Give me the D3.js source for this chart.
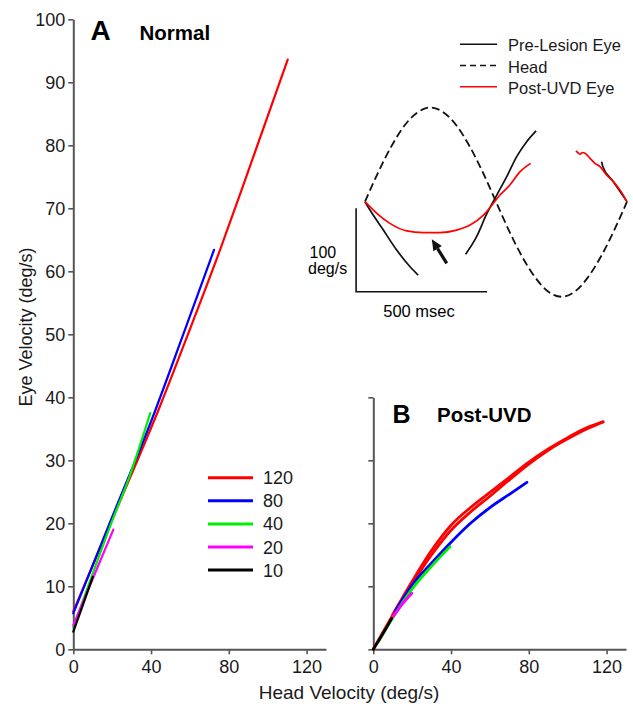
<!DOCTYPE html>
<html><head><meta charset="utf-8">
<script src="https://cdn.jsdelivr.net/npm/d3@7"></script>
<style>
html,body{margin:0;padding:0;background:#fff;}
svg{display:block;font-family:"Liberation Sans",Arial,sans-serif;}
</style></head>
<body><svg id="c" width="633" height="710"></svg>
<script>
// ---------- Data ----------
const speeds = ["120","80","40","20","10"];
const speedColors = ["#ff0000","#0000ff","#00ee00","#ff00ff","#000000"];
const xTicks = [0,40,80,120];
const yTicksA = [0,10,20,30,40,50,60,70,80,90,100];
const yTicksB = [0,10,20,30,40];

// Panel A (Normal): head velocity vs eye velocity
const normal120 = [[0,6],[20,20.6],[45,38.9],[60,50.8],[75.5,63.4],[90,75.9],[110.3,93.6]];
const normal80  = [[0,5.7],[20,21],[40.3,36.4],[56,49.5],[72.4,63.4]];
const normal40  = [[0,3.5],[10,12],[20,20.4],[28.3,26.9],[39.6,37.5]];
const normal20  = [[0,3.8],[10,11.2],[20.6,19]];
const normal10  = [[0,2.8],[5,7.1],[10,11.5]];

// Panel B (Post-UVD)
const uvd120a = [[0,0],[10,5.4],[20,10.4],[30,15],[40,18.9],[50,21.8],[60,24.3],[70,26.9],[80,29.4],[90,31.6],[100,33.4],[110,35],[118.2,36.1]];
const uvd120b = [[10,5.5],[20,10.8],[30,15.7],[40,19.7],[50,22.5],[60,24.9],[70,27.3],[80,29.7],[90,31.8],[100,33.6],[110,35.2],[118.2,36.1]];
const uvd80   = [[11.2,6],[20,10.2],[30,13.7],[40,17],[50,20],[60,22.5],[70,24.6],[79,26.5]];
const uvd40   = [[2.6,1.2],[10,5],[20,9.6],[30,13.2],[39.5,16.3]];
const uvd20   = [[10.3,5.2],[15,7.2],[19.8,8.9]];
const uvd10   = [[0,0],[5,2.5],[9.5,4.9]];

// Inset: time (ms) vs velocity (deg/s)
const headT = [0,50,100,150,200,250,300,350,400,450,500,550,600,650,700,750,800,850,900,950,1000];
const headV = [0,35,66,91,107,113,107,91,66,35,0,-35,-66,-91,-108,-114,-108,-91,-66,-35,0];
const preEye1 = [[0,0],[19,-10],[70,-34],[121,-58],[172,-78],[203,-88]];
const preEye2 = [[384,-63],[426,-42],[464,-15],[503,8],[541,30],[579,54],[617,72],[653,85]];
const preEye3 = [[903,48],[908,42],[948,24],[1000,0]];
const postEye1 = [[0,0],[45,-14],[95,-26],[159,-35],[222,-37],[286,-37],[350,-34],[401,-28],[452,-16],[485,-4],[515,8],[553,20],[592,36],[632,46]];
const postEye2 = [[805,61],[812,59],[821,57],[830,59],[840,58],[859,52],[878,46],[897,42],[922,32],[948,24],[973,14],[1000,0]];
const insetLegend = ["Pre-Lesion Eye","Head","Post-UVD Eye"];

// ---------- Drawing ----------
const svg = d3.select("#c");
const axisColor = "#555";
const FONT = 18;

const xA = d3.scaleLinear([0,130],[73.3,326]);
const yA = d3.scaleLinear([0,100],[649.3,19.3]);
const xB = d3.scaleLinear([0,130],[373.3,626]);
const yB = d3.scaleLinear([0,40],[649.3,397.3]);

function drawAxes(x, y, yt, labelsY){
  const gx = svg.append("g").attr("transform",`translate(0,${y(0)})`)
    .call(d3.axisBottom(x).tickValues(xTicks).tickSize(5).tickPadding(6).tickSizeOuter(0));
  const gy = svg.append("g").attr("transform",`translate(${x(0)},0)`)
    .call(d3.axisLeft(y).tickValues(yt).tickSize(5).tickPadding(3).tickSizeOuter(0));
  if(!labelsY) gy.selectAll("text").remove();
  [gx,gy].forEach(g=>{
    g.select(".domain").attr("stroke",axisColor).attr("stroke-width",2);
    g.selectAll(".tick line").attr("stroke",axisColor).attr("stroke-width",1.6);
    g.selectAll("text").attr("fill","#1a1a1a").style("font-size",FONT+"px").style("font-family","Liberation Sans, Arial, sans-serif");
  });
}
drawAxes(xA,yA,yTicksA,true);
drawAxes(xB,yB,yTicksB,false);

const lineA = d3.line().x(d=>xA(d[0])).y(d=>yA(d[1])).curve(d3.curveMonotoneX);
const lineB = d3.line().x(d=>xB(d[0])).y(d=>yB(d[1])).curve(d3.curveMonotoneX);

const normalSeries = [normal120,normal80,normal40,normal20,normal10];
normalSeries.forEach((s,i)=>{
  svg.append("path").attr("d",lineA(s)).attr("fill","none")
    .attr("stroke",speedColors[i]).attr("stroke-width",2.2).attr("stroke-linecap","round");
});
const uvdSeries = [[uvd120a,0],[uvd120b,0],[uvd80,1],[uvd40,2],[uvd20,3],[uvd10,4]];
uvdSeries.forEach(([s,i])=>{
  svg.append("path").attr("d",lineB(s)).attr("fill","none")
    .attr("stroke",speedColors[i]).attr("stroke-width",2.8).attr("stroke-linecap","round");
});

// Panel A legend
speeds.forEach((sp,i)=>{
  const yy = 477.7 + i*23.1;
  svg.append("line").attr("x1",208).attr("x2",253).attr("y1",yy).attr("y2",yy)
    .attr("stroke",speedColors[i]).attr("stroke-width",3);
  svg.append("text").attr("x",263).attr("y",yy+6.5).text(sp)
    .style("font-size",FONT+"px").attr("fill","#1a1a1a");
});

// Panel labels
svg.append("text").attr("x",90.5).attr("y",40).text("A").style("font-size","28px").style("font-weight","bold");
svg.append("text").attr("x",139.5).attr("y",40).text("Normal").style("font-size","20.5px").style("font-weight","bold");
svg.append("text").attr("x",392.5).attr("y",422.5).text("B").style("font-size","25px").style("font-weight","bold");
svg.append("text").attr("x",437).attr("y",422).text("Post-UVD").style("font-size","20.5px").style("font-weight","bold");

// Axis titles
svg.append("text").attr("transform","translate(32,327) rotate(-90)").attr("text-anchor","middle")
  .text("Eye Velocity (deg/s)").style("font-size","18px").attr("fill","#1a1a1a");
svg.append("text").attr("x",349).attr("y",699).attr("text-anchor","middle")
  .text("Head Velocity (deg/s)").style("font-size","19px").attr("fill","#1a1a1a");

// ---------- Inset ----------
const ix = d3.scaleLinear([0,1000],[365,627]);
const iy = d3.scaleLinear([-100,100],[285.1,118.3]);
const iline = d3.line().x(d=>ix(d[0])).y(d=>iy(d[1])).curve(d3.curveMonotoneX);

svg.append("path").attr("d",iline(headT.map((t,i)=>[t,headV[i]])))
  .attr("fill","none").attr("stroke","#111").attr("stroke-width",1.8).attr("stroke-dasharray","8,4");
[preEye1,preEye2,preEye3].forEach(s=>{
  svg.append("path").attr("d",iline(s)).attr("fill","none").attr("stroke","#111").attr("stroke-width",1.7);
});
[postEye1,postEye2].forEach(s=>{
  svg.append("path").attr("d",iline(s)).attr("fill","none").attr("stroke","#ff0000").attr("stroke-width",1.7);
});

// scale bar
const sb0 = [-34,-108];
svg.append("path")
  .attr("d",`M${ix(sb0[0])},${iy(sb0[1]+100)}L${ix(sb0[0])},${iy(sb0[1])}L${ix(sb0[0]+500)},${iy(sb0[1])}`)
  .attr("fill","none").attr("stroke","#111").attr("stroke-width",1.6);
svg.append("text").attr("x",309.5).attr("y",257.5).text("100").style("font-size","16px");
svg.append("text").attr("x",308).attr("y",273.5).text("deg/s").style("font-size","16px");
svg.append("text").attr("x",419).attr("y",316.5).attr("text-anchor","middle").text("500 msec").style("font-size","16.5px");

// arrow
const tail = [ix(312),iy(-74)], tip = [ix(255),iy(-45)];
const ang = Math.atan2(tip[1]-tail[1], tip[0]-tail[0]);
const hl = 11, hw = 5;
const base = [tip[0]-hl*Math.cos(ang), tip[1]-hl*Math.sin(ang)];
svg.append("line").attr("x1",tail[0]).attr("y1",tail[1]).attr("x2",base[0]).attr("y2",base[1])
  .attr("stroke","#111").attr("stroke-width",3.2);
svg.append("path").attr("d",`M${tip[0]},${tip[1]}L${base[0]+hw*Math.sin(ang)},${base[1]-hw*Math.cos(ang)}L${base[0]-hw*Math.sin(ang)},${base[1]+hw*Math.cos(ang)}Z`)
  .attr("fill","#111");

// inset legend
const legStyles = [{c:"#111",d:null},{c:"#111",d:"6,4"},{c:"#ff0000",d:null}];
insetLegend.forEach((t,i)=>{
  const yy = 44.3 + i*21.2;
  const l = svg.append("line").attr("x1",460).attr("x2",497).attr("y1",yy).attr("y2",yy)
    .attr("stroke",legStyles[i].c).attr("stroke-width",1.6);
  if(legStyles[i].d) l.attr("stroke-dasharray",legStyles[i].d);
  svg.append("text").attr("x",508).attr("y",yy+7).text(t).style("font-size","16.5px").attr("fill","#1a1a1a");
});
</script></body></html>
